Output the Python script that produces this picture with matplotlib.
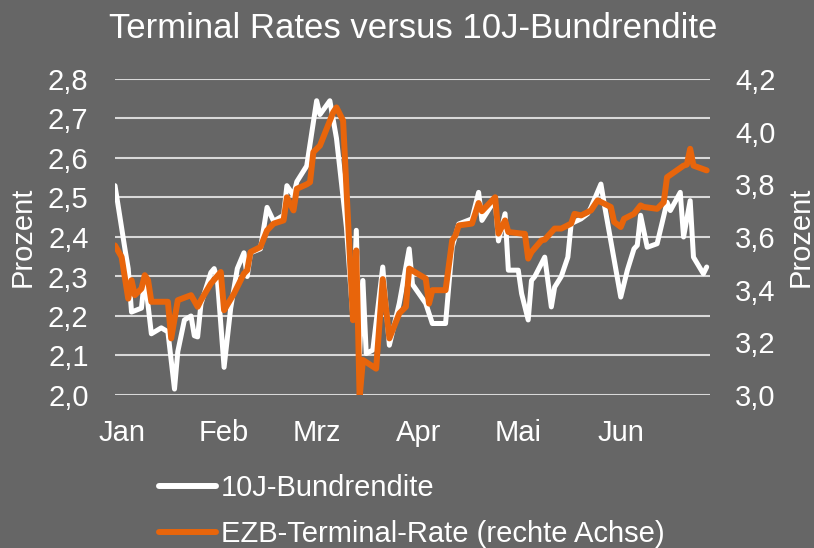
import matplotlib
matplotlib.use("Agg")
import matplotlib.pyplot as plt
import matplotlib.ticker as mticker
import pandas as pd

# ---------------- data ----------------
bund_dates = ["2022-12-30","2023-01-02","2023-01-03","2023-01-04","2023-01-07","2023-01-08","2023-01-10",
              "2023-01-13","2023-01-15","2023-01-17","2023-01-18","2023-01-20","2023-01-22","2023-01-23",
              "2023-01-24","2023-01-25","2023-01-28","2023-01-29","2023-01-30","2023-02-01","2023-02-03",
              "2023-02-05","2023-02-07","2023-02-08","2023-02-09","2023-02-12","2023-02-14","2023-02-16",
              "2023-02-19","2023-02-20","2023-02-22","2023-02-23","2023-02-26","2023-03-01","2023-03-02",
              "2023-03-05","2023-03-07","2023-03-10","2023-03-12","2023-03-13","2023-03-14","2023-03-15",
              "2023-03-16","2023-03-18","2023-03-21","2023-03-23","2023-03-26","2023-03-29","2023-03-30",
              "2023-04-03","2023-04-05","2023-04-09","2023-04-11","2023-04-13","2023-04-17","2023-04-19",
              "2023-04-20","2023-04-24","2023-04-25","2023-04-27","2023-04-28","2023-05-01","2023-05-02",
              "2023-05-04","2023-05-05","2023-05-06","2023-05-09","2023-05-11","2023-05-12","2023-05-14",
              "2023-05-16","2023-05-17","2023-05-20","2023-05-22","2023-05-23","2023-05-26","2023-05-27",
              "2023-06-01","2023-06-03","2023-06-05","2023-06-06","2023-06-07","2023-06-09","2023-06-12",
              "2023-06-15","2023-06-16","2023-06-19","2023-06-20","2023-06-22","2023-06-23","2023-06-26",
              "2023-06-27"]
bund_values = [2.53, 2.37, 2.32, 2.21, 2.22, 2.30, 2.155,
               2.17, 2.16, 2.015, 2.11, 2.19, 2.20, 2.15,
               2.147, 2.23, 2.31, 2.32, 2.29, 2.07, 2.22,
               2.32, 2.36, 2.30, 2.36, 2.37, 2.475, 2.44,
               2.455, 2.53, 2.505, 2.54, 2.58, 2.745, 2.71,
               2.745, 2.65, 2.425, 2.19, 2.417, 2.106, 2.29,
               2.105, 2.114, 2.324, 2.126, 2.232, 2.37, 2.28,
               2.232, 2.181, 2.181, 2.374, 2.433, 2.446, 2.513,
               2.442, 2.495, 2.39, 2.459, 2.316, 2.316, 2.257,
               2.19, 2.29, 2.30, 2.349, 2.223, 2.273, 2.30,
               2.349, 2.434, 2.446, 2.459, 2.475, 2.534, 2.484,
               2.248, 2.316, 2.37, 2.379, 2.455, 2.374, 2.383,
               2.488, 2.467, 2.513, 2.40, 2.492, 2.349, 2.307,
               2.324]

ezb_dates = ["2022-12-30","2023-01-01","2023-01-03","2023-01-04","2023-01-05","2023-01-07","2023-01-08",
             "2023-01-09","2023-01-10","2023-01-15","2023-01-16","2023-01-18","2023-01-22","2023-01-24",
             "2023-01-25","2023-01-28","2023-01-31","2023-02-01","2023-02-04","2023-02-07","2023-02-08",
             "2023-02-09","2023-02-12","2023-02-14","2023-02-16","2023-02-19","2023-02-20","2023-02-22",
             "2023-02-23","2023-02-26","2023-02-27","2023-02-28","2023-03-02","2023-03-04","2023-03-06",
             "2023-03-07","2023-03-09","2023-03-12","2023-03-13","2023-03-14","2023-03-15","2023-03-19",
             "2023-03-21","2023-03-23","2023-03-26","2023-03-28","2023-03-29","2023-04-03","2023-04-04",
             "2023-04-05","2023-04-09","2023-04-11","2023-04-12","2023-04-13","2023-04-17","2023-04-19",
             "2023-04-20","2023-04-24","2023-04-25","2023-04-27","2023-04-28","2023-05-02","2023-05-03",
             "2023-05-04","2023-05-05","2023-05-08","2023-05-09","2023-05-12","2023-05-14","2023-05-17",
             "2023-05-18","2023-05-20","2023-05-23","2023-05-25","2023-05-29","2023-05-30","2023-06-01",
             "2023-06-02","2023-06-05","2023-06-07","2023-06-08","2023-06-12","2023-06-14","2023-06-15",
             "2023-06-20","2023-06-21","2023-06-22","2023-06-23","2023-06-27"]
ezb_values = [3.568, 3.524, 3.366, 3.436, 3.379, 3.404, 3.455,
              3.436, 3.354, 3.354, 3.215, 3.36, 3.379, 3.335,
              3.36, 3.423, 3.467, 3.322, 3.385, 3.461, 3.474,
              3.543, 3.562, 3.625, 3.651, 3.663, 3.751, 3.701,
              3.783, 3.80, 3.808, 3.922, 3.947, 4.01, 4.073,
              4.092, 4.042, 3.284, 3.549, 2.99, 3.133, 3.10,
              3.44, 3.215, 3.31, 3.335, 3.48, 3.442, 3.347,
              3.398, 3.398, 3.587, 3.606, 3.644, 3.651, 3.729,
              3.698, 3.751, 3.613, 3.663, 3.619, 3.613, 3.612,
              3.518, 3.543, 3.587, 3.59, 3.632, 3.632, 3.651,
              3.688, 3.682, 3.701, 3.739, 3.714, 3.657, 3.638,
              3.669, 3.688, 3.72, 3.714, 3.707, 3.732, 3.827,
              3.871, 3.875, 3.935, 3.871, 3.853]

month_starts = ["2023-01-01", "2023-02-01", "2023-03-01", "2023-04-01", "2023-05-01", "2023-06-01"]
month_labels = ["Jan", "Feb", "Mrz", "Apr", "Mai", "Jun"]

title = "Terminal Rates versus 10J-Bundrendite"
label_bund = "10J-Bundrendite"
label_ezb = "EZB-Terminal-Rate (rechte Achse)"

# ---------------- style ----------------
BG = "#666666"
ORANGE = "#E8650B"
GRID = "#D9D9D9"
FONT = ["Liberation Sans", "DejaVu Sans"]
plt.rcParams["font.family"] = FONT
FS = 21

origin = pd.Timestamp("2022-12-30")
def to_days(ds):
    return [(pd.Timestamp(d) - origin).days for d in ds]

xb = to_days(bund_dates)
xe = to_days(ezb_dates)
xt = to_days(month_starts)

fig = plt.figure(figsize=(8.14, 5.48), dpi=100, facecolor=BG)
ax = fig.add_axes([115/814, 1-395/548, (710-115)/814, (395-79)/548])
ax.set_facecolor(BG)
ax2 = ax.twinx()

comma = mticker.FuncFormatter(lambda v, p: f"{v:.1f}".replace(".", ","))

ax.set_ylim(2.0, 2.8)
ax.set_yticks([2.0 + 0.1*i for i in range(9)])
ax.yaxis.set_major_formatter(comma)
ax2.set_ylim(3.0, 4.2)
ax2.set_yticks([3.0 + 0.2*i for i in range(7)])
ax2.yaxis.set_major_formatter(comma)
ax.set_xlim(0, 180)
ax.set_xticks(xt)
ax.set_xticklabels(month_labels)

ax.grid(axis="y", color=GRID, linewidth=1.5)
ax.set_axisbelow(True)

for a in (ax, ax2):
    for s in a.spines.values():
        s.set_visible(False)
    a.tick_params(length=0, colors="white", labelsize=FS)
ax.tick_params(axis="y", pad=19)
ax2.tick_params(axis="y", pad=18)
ax.tick_params(axis="x", pad=17)

l1, = ax.plot(xb, bund_values, color="white", linewidth=3.6, solid_joinstyle="round",
              solid_capstyle="round", label=label_bund, zorder=3)
l2, = ax2.plot(xe, ezb_values, color=ORANGE, linewidth=4.3, solid_joinstyle="round",
               solid_capstyle="round", label=label_ezb, zorder=4)

ax.set_ylabel("Prozent", color="white", fontsize=FS, labelpad=8)
ax2.set_ylabel("Prozent", color="white", fontsize=FS, labelpad=8)

fig.text(413/814, 1-28/548, title, color="white", fontsize=25, ha="center", va="center")

leg = fig.legend(handles=[l1, l2], loc="upper left", bbox_to_anchor=(159/814, 1-474/548),
                 frameon=False, fontsize=FS, handlelength=1.95, handletextpad=0.17,
                 labelspacing=0.62, borderpad=0, borderaxespad=0)
for t in leg.get_texts():
    t.set_color("white")
for h in leg.get_lines():
    h.set_linewidth(4.3)

fig.savefig("out.png", dpi=100, facecolor=BG)
